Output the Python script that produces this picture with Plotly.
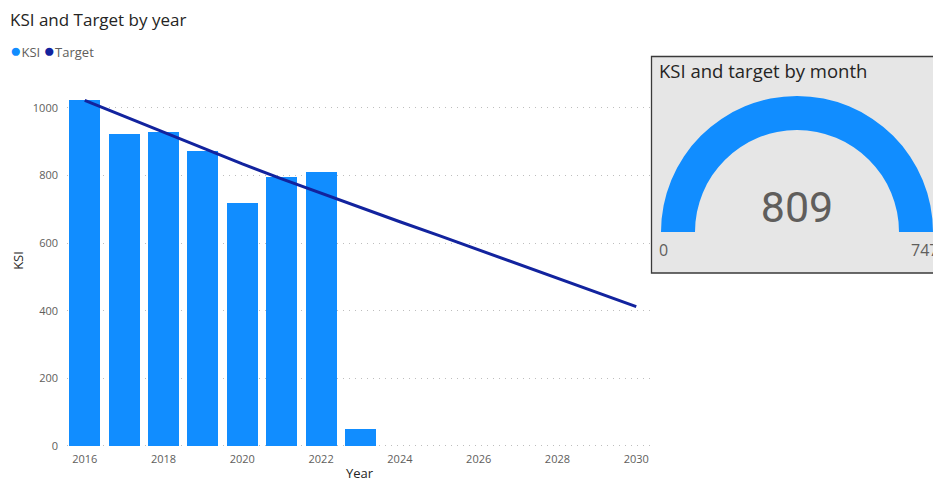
import plotly.graph_objects as go

# ---- data ----
years = [2016, 2017, 2018, 2019, 2020, 2021, 2022, 2023]
ksi = [1022, 924, 928, 872, 719, 795, 809, 50]
target_years = [2016, 2017, 2018, 2019, 2020, 2021, 2022, 2023, 2024, 2025, 2026, 2027, 2028, 2029, 2030]
target = [1022, 975, 928, 881, 834, 790, 747, 705, 663, 622, 580, 538, 496, 454, 412]
x_ticks = [2016, 2018, 2020, 2022, 2024, 2026, 2028, 2030]
y_ticks = [0, 200, 400, 600, 800, 1000]
gauge_value = 809
gauge_min = 0
gauge_max = 747

W, H = 933, 482
B = 35  # bottom margin: plot area ends at y = 447
FONT = "Open Sans, Noto Sans, sans-serif"
KSI_C = "#118DFF"
TGT_C = "#12239E"
GREY = "#605E5C"
DARK = "#252423"

def px(x):
    return x / W

def py(y):
    return (H - B - y) / (H - B)

fig = go.Figure()
fig.add_trace(go.Bar(x=years, y=ksi, name="KSI", marker=dict(color=KSI_C, line=dict(width=0)),
                     width=0.79, showlegend=False))
fig.add_trace(go.Scatter(x=target_years, y=target, name="Target", mode="lines",
                         line=dict(color=TGT_C, width=3), showlegend=False))

# gauge
cx, r = 797, 136
fig.add_trace(go.Indicator(
    mode="gauge+number", value=gauge_value,
    domain=dict(x=[px(cx - r), 1], y=[py(232), py(232 - r)]),
    number=dict(font=dict(size=43, color=GREY, family="Liberation Sans Narrow, Roboto, sans-serif")),
    gauge=dict(shape="angular",
               axis=dict(range=[gauge_min, gauge_max], visible=False),
               bar=dict(color=KSI_C, thickness=1, line=dict(width=0)),
               bgcolor="rgba(0,0,0,0)", borderwidth=0),
))

fig.update_layout(
    width=W, height=H,
    margin=dict(l=0, r=0, t=0, b=B, autoexpand=False),
    paper_bgcolor="white", plot_bgcolor="white",
    font=dict(family=FONT, color=GREY),
    bargap=0,
    title=dict(text="KSI and Target by year", x=px(10), xanchor="left", xref="container",
               y=1 - 20 / H, yanchor="middle", yref="container",
               font=dict(size=17, color=DARK, family=FONT)),
    xaxis=dict(domain=[px(67), px(652)], range=[2015.55, 2030.4], tickvals=x_ticks,
               showgrid=False, zeroline=False, showline=False, ticks="", automargin=False,
               tickfont=dict(size=11, color=GREY), ticklabelstandoff=4,
               title=dict(text="Year", font=dict(size=13, color=DARK), standoff=12)),
    yaxis=dict(domain=[0, py(74)], range=[-3, 1100], tickvals=y_ticks,
               showgrid=True, gridcolor="#BEBEBE", griddash="1px,5px", gridwidth=1,
               zeroline=False, showline=False, ticks="", automargin=False,
               tickfont=dict(size=11, color=GREY), ticklabelstandoff=8,
               title=dict(text="KSI", font=dict(size=13, color=DARK), standoff=6)),
    shapes=[dict(type="rect", xref="paper", yref="paper", x0=px(651.5), x1=1.02,
                 y0=py(273), y1=py(56.5), fillcolor="#E6E6E6",
                 line=dict(color="#3A3A3A", width=1.3), layer="below")],
    annotations=[
        dict(text=f"<span style='color:{KSI_C};font-size:19px'>●</span>KSI "
                  f"<span style='color:{TGT_C};font-size:19px'>●</span>Target",
             x=px(8), y=py(50), xref="paper", yref="paper", xanchor="left", yanchor="middle",
             showarrow=False, font=dict(size=13, color=GREY)),
        dict(text="KSI and target by month", x=px(657), y=py(70), xref="paper", yref="paper",
             xanchor="left", yanchor="middle", showarrow=False, font=dict(size=18.5, color=DARK)),
        dict(text=str(gauge_min), x=px(657), y=py(250), xref="paper", yref="paper",
             xanchor="left", yanchor="middle", showarrow=False, font=dict(size=16, color=GREY)),
        dict(text=str(gauge_max), x=px(909), y=py(250), xref="paper", yref="paper",
             xanchor="left", yanchor="middle", showarrow=False, font=dict(size=16, color=GREY)),
    ],
)

fig.write_html("out.html", config={"displayModeBar": False},
               post_script="document.body.style.margin='0';document.body.style.overflow='hidden';")
